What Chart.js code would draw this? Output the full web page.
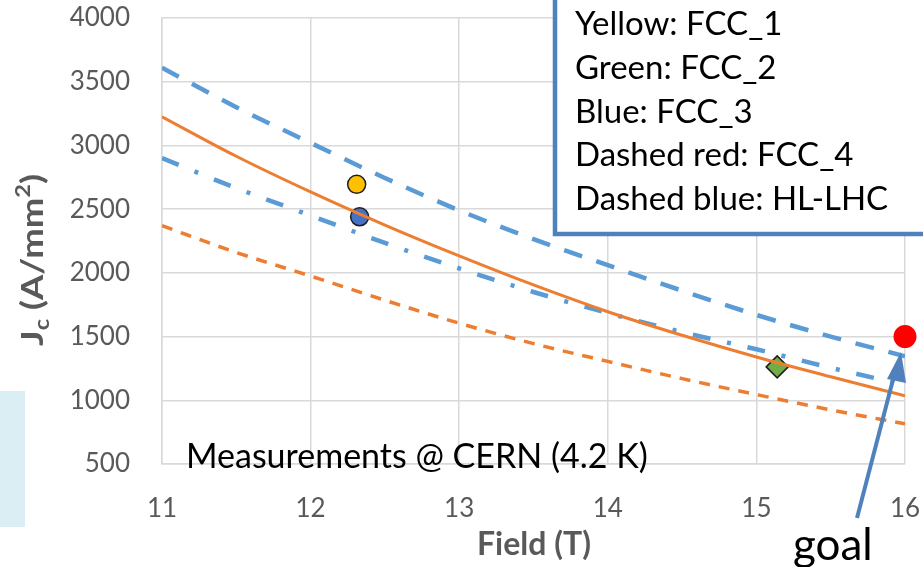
<!DOCTYPE html>
<html>
<head>
<meta charset="utf-8">
<script src="https://cdn.jsdelivr.net/npm/chart.js@4.4.1/dist/chart.umd.min.js"></script>
<style>
  html, body { margin: 0; padding: 0; background: #fff; }
  #wrap { width: 923px; height: 567px; position: relative; }
</style>
</head>
<body>
<div id="wrap"><canvas id="chart" width="923" height="567"></canvas></div>
<script>
// Jc vs field — FCC conductor measurements

// axis values
const fieldT = [11, 11.5, 12, 12.5, 13, 13.5, 14, 14.5, 15, 15.5, 16];
const xTicks = [11, 12, 13, 14, 15, 16];
const yTicks = [500, 1000, 1500, 2000, 2500, 3000, 3500, 4000];

// curves (A/mm2)
const hlLhcDashed = [3610, 3300, 3020, 2745, 2490, 2265, 2060, 1860, 1670, 1500, 1345];
const orangeSolid = [3225, 2915, 2635, 2375, 2133, 1905, 1695, 1510, 1340, 1185, 1035];
const blueDashDot = [2900, 2665, 2450, 2235, 2035, 1850, 1685, 1535, 1400, 1255, 1120];
const fcc4Dashed  = [2370, 2160, 1975, 1785, 1605, 1445, 1305, 1170, 1045, 925, 815];

// measured samples
const sampleNames = ["FCC_1", "FCC_3", "FCC_2", "goal"];
const sampleField = [12.31, 12.33, 15.14, 16.0];
const sampleJc    = [2695, 2440, 1262, 1500];

// legend box text
const noteLines = ["Yellow: FCC_1", "Green: FCC_2", "Blue: FCC_3", "Dashed red: FCC_4", "Dashed blue: HL-LHC"];

const toXY = (xs, ys) => xs.map((x, i) => ({ x: x, y: ys[i] }));
const grey = "#595959";

function curve(data, color, width, dash) {
  return {
    type: "line",
    data: toXY(fieldT, data),
    borderColor: color,
    borderWidth: width,
    borderDash: dash,
    pointRadius: 0,
    tension: 0.4,
    cubicInterpolationMode: "monotone",
    fill: false
  };
}

function sample(i, color, style, radius, border) {
  return {
    type: "scatter",
    label: sampleNames[i],
    data: [{ x: sampleField[i], y: sampleJc[i] }],
    backgroundColor: color,
    borderColor: "#1f1f1f",
    borderWidth: border,
    pointStyle: style,
    pointRadius: radius,
    clip: false
  };
}

// textes, encadré, flèche
const decor = {
  id: "decor",
  beforeDraw(chart) {
    const ctx = chart.ctx;
    ctx.save();
    ctx.fillStyle = "#DAEEF3";
    ctx.fillRect(0, 391, 25, 136);
    ctx.restore();
  },
  afterDatasetsDraw(chart) {
    const ctx = chart.ctx;
    ctx.save();

    // y axis title with sub / superscript, stretched to the original length
    ctx.translate(43, 260);
    ctx.rotate(-Math.PI / 2);
    ctx.fillStyle = grey;
    ctx.textBaseline = "alphabetic";
    const big = "bold 31px Lato", small = "bold 20px Lato";
    const parts = [["J", big, 0], ["c", small, 6], [" (A/mm", big, 0], ["2", small, -13], [")", big, 0]];
    let total = 0;
    parts.forEach(p => { ctx.font = p[1]; total += ctx.measureText(p[0]).width; });
    ctx.scale(172 / total, 1);
    let px = -total / 2;
    parts.forEach(p => {
      ctx.font = p[1];
      ctx.fillText(p[0], px, p[2]);
      px += ctx.measureText(p[0]).width;
    });
    ctx.restore();

    ctx.save();
    ctx.fillStyle = grey;
    ctx.font = "bold 32px Lato";
    ctx.textAlign = "center";
    ctx.textBaseline = "alphabetic";
    ctx.fillText("Field (T)", 534, 555);

    ctx.fillStyle = "#000";
    ctx.font = "34px Lato";
    ctx.textAlign = "left";
    ctx.fillText("Measurements @ CERN (4.2 K)", 186, 468);

    ctx.font = "44px Lato";
    ctx.fillText("goal", 793, 560);

    // legend box
    ctx.fillStyle = "#fff";
    ctx.fillRect(555, -10, 380, 244);
    ctx.strokeStyle = "#4F81BD";
    ctx.lineWidth = 4.5;
    ctx.strokeRect(555, -10, 380, 244);
    ctx.fillStyle = "#000";
    ctx.font = "33px Lato";
    noteLines.forEach((t, i) => ctx.fillText(t, 575, 35 + i * 43.8));

    // arrow to goal
    ctx.strokeStyle = "#4F81BD";
    ctx.fillStyle = "#4F81BD";
    ctx.lineWidth = 4;
    ctx.beginPath();
    ctx.moveTo(857, 518);
    ctx.lineTo(895, 372);
    ctx.stroke();
    ctx.beginPath();
    ctx.moveTo(901, 352);
    ctx.lineTo(887, 379);
    ctx.lineTo(906, 383);
    ctx.closePath();
    ctx.fill();
    ctx.restore();
  }
};

new Chart(document.getElementById("chart"), {
  data: {
    datasets: [
      curve(fcc4Dashed, "#ED7D31", 3.5, [11, 9]),
      curve(orangeSolid, "#ED7D31", 3, []),
      curve(blueDashDot, "#5B9BD5", 4.5, [18, 17, 4, 17]),
      curve(hlLhcDashed, "#5B9BD5", 4.5, [19, 15]),
      sample(0, "#FFC000", "circle", 9, 1.5),
      sample(1, "#4472C4", "circle", 9, 1.5),
      sample(2, "#70AD47", "rectRot", 11, 1.5),
      sample(3, "#FF0000", "circle", 11.5, 0)
    ]
  },
  options: {
    responsive: false,
    animation: false,
    layout: { padding: { top: 18, right: 18, left: 0, bottom: 0 } },
    plugins: { legend: { display: false }, tooltip: { enabled: false } },
    scales: {
      x: {
        type: "linear",
        min: 11, max: 16,
        afterBuildTicks: s => { s.ticks = xTicks.map(v => ({ value: v })); },
        afterFit: s => { s.height = 103; s.paddingLeft = 0; s.paddingRight = 0; },
        grid: { color: "#D9D9D9", lineWidth: 1.5, drawTicks: false },
        border: { color: "#D9D9D9", width: 1.5 },
        ticks: { color: grey, font: { family: "Lato", size: 26 }, padding: 29, maxRotation: 0,
                 callback: v => String(v) }
      },
      y: {
        type: "linear",
        min: 500, max: 4000,
        afterBuildTicks: s => { s.ticks = yTicks.map(v => ({ value: v })); },
        afterFit: s => { s.width = 162; s.paddingTop = 0; s.paddingBottom = 0; },
        grid: { color: "#D9D9D9", lineWidth: 1.5, drawTicks: false },
        border: { color: "#D9D9D9", width: 1.5 },
        ticks: { color: grey, font: { family: "Lato", size: 26 }, padding: 32,
                 callback: v => String(v) }
      }
    }
  },
  plugins: [decor]
});
</script>
</body>
</html>
